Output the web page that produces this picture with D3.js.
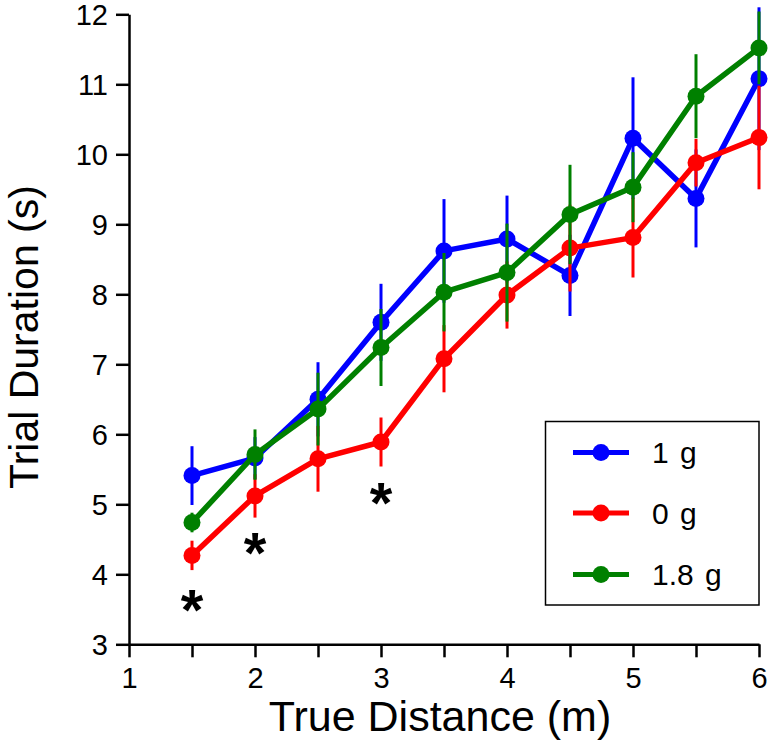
<!DOCTYPE html>
<html>
<head>
<meta charset="utf-8">
<script src="https://cdn.jsdelivr.net/npm/d3@7"></script>
<style>
  html, body { margin: 0; padding: 0; background: #fff; }
  svg text { font-family: "Liberation Sans", Arial, Helvetica, sans-serif; fill: #000; }
</style>
</head>
<body>
<svg id="chart" width="769" height="747"></svg>
<script>
// ---- data ----
const distances = [1.5, 2, 2.5, 3, 3.5, 4, 4.5, 5, 5.5, 6];
const seriesNames = ["1 g", "0 g", "1.8 g"];
const seriesColors = ["#0000ff", "#ff0000", "#008000"];
const mean1g  = [5.41, 5.66, 6.50, 7.60, 8.62, 8.79, 8.27, 10.23, 9.37, 11.08];
const err1g   = [0.42, 0.30, 0.53, 0.55, 0.74, 0.62, 0.58, 0.87, 0.70, 1.02];
const mean0g  = [4.27, 5.12, 5.65, 5.89, 7.08, 7.99, 8.66, 8.81, 9.88, 10.24];
const err0g   = [0.21, 0.31, 0.47, 0.35, 0.48, 0.48, 0.62, 0.57, 0.34, 0.74];
const mean18g = [4.74, 5.71, 6.36, 7.24, 8.03, 8.31, 9.14, 9.53, 10.83, 11.52];
const err18g  = [0.14, 0.36, 0.52, 0.55, 0.56, 0.70, 0.71, 0.50, 0.60, 0.52];
const starX = [1.5, 2, 3];
const starY = [3.68, 4.49, 5.20];
const xTicks = [1, 1.5, 2, 2.5, 3, 3.5, 4, 4.5, 5, 5.5, 6];
const xTickLabels = [1, 2, 3, 4, 5, 6];
const yTicks = [3, 4, 5, 6, 7, 8, 9, 10, 11, 12];
const xTitle = "True Distance (m)";
const yTitle = "Trial Duration (s)";

const series = [
  { name: seriesNames[0], color: seriesColors[0], mean: mean1g, err: err1g },
  { name: seriesNames[1], color: seriesColors[1], mean: mean0g, err: err0g },
  { name: seriesNames[2], color: seriesColors[2], mean: mean18g, err: err18g }
];

// ---- layout ----
const svg = d3.select("#chart");
const x = d3.scaleLinear().domain([1, 6]).range([129, 759]);
const y = d3.scaleLinear().domain([3, 12]).range([644.3, 14.3]);

// axes
const xAxis = d3.axisBottom(x).tickValues(xTicks).tickSize(13).tickSizeOuter(0)
  .tickFormat(d => xTickLabels.includes(d) ? d3.format("d")(d) : "");
const gx = svg.append("g").attr("transform", `translate(0,${y(3)})`).call(xAxis);
gx.select(".domain").attr("stroke", "#000").attr("stroke-width", 2.5);
gx.selectAll(".tick line").attr("stroke", "#000").attr("stroke-width", 2.5);
gx.selectAll(".tick text").attr("font-size", 29).attr("dy", null).attr("y", 44)
  .style("font-family", '"Liberation Sans", Arial, sans-serif');

const yAxis = d3.axisLeft(y).tickValues(yTicks).tickSize(13).tickSizeOuter(0)
  .tickFormat(d3.format("d"));
const gy = svg.append("g").attr("transform", `translate(${x(1)},0)`).call(yAxis);
gy.select(".domain").attr("stroke", "#000").attr("stroke-width", 2.5);
gy.selectAll(".tick line").attr("stroke", "#000").attr("stroke-width", 2.5);
gy.selectAll(".tick text").attr("font-size", 29).attr("x", -21).attr("dy", "0.36em")
  .style("font-family", '"Liberation Sans", Arial, sans-serif');
gx.attr("font-family", null); gy.attr("font-family", null);

// titles
svg.append("text").attr("x", 440).attr("y", 731).attr("text-anchor", "middle")
  .attr("font-size", 43).text(xTitle);
svg.append("text").attr("transform", "translate(37.5,337) rotate(-90)")
  .attr("text-anchor", "middle").attr("font-size", 41).text(yTitle);

// series
const line = d3.line().x((d, i) => x(distances[i])).y(d => y(d));
series.forEach(s => {
  const g = svg.append("g");
  g.selectAll("line.err").data(s.mean).join("line").attr("class", "err")
    .attr("x1", (d, i) => x(distances[i])).attr("x2", (d, i) => x(distances[i]))
    .attr("y1", (d, i) => y(d - s.err[i])).attr("y2", (d, i) => y(d + s.err[i]))
    .attr("stroke", s.color).attr("stroke-width", 3);
  g.append("path").datum(s.mean).attr("d", line).attr("fill", "none")
    .attr("stroke", s.color).attr("stroke-width", 5.5).attr("stroke-linejoin", "round");
  g.selectAll("circle").data(s.mean).join("circle")
    .attr("cx", (d, i) => x(distances[i])).attr("cy", d => y(d)).attr("r", 8.5)
    .attr("fill", s.color);
});

// significance stars
svg.selectAll("text.star").data(starX).join("text").attr("class", "star")
  .attr("x", d => x(d)).attr("y", (d, i) => y(starY[i]) + 33)
  .attr("text-anchor", "middle").attr("font-size", 58).attr("font-weight", "bold").text("*");

// legend
const lg = svg.append("g");
lg.append("rect").attr("x", 545.5).attr("y", 421.5).attr("width", 213.5).attr("height", 183.5)
  .attr("fill", "#fff").attr("stroke", "#000").attr("stroke-width", 1.5);
const rowY = [452.5, 513, 574.5];
series.forEach((s, i) => {
  lg.append("line").attr("x1", 573).attr("x2", 629).attr("y1", rowY[i]).attr("y2", rowY[i])
    .attr("stroke", s.color).attr("stroke-width", 5);
  lg.append("circle").attr("cx", 601).attr("cy", rowY[i]).attr("r", 8.5).attr("fill", s.color);
  lg.append("text").attr("x", 652).attr("y", rowY[i]).attr("dy", "0.36em")
    .attr("font-size", 30).style("word-spacing", "3px").text(s.name);
});
</script>
</body>
</html>
